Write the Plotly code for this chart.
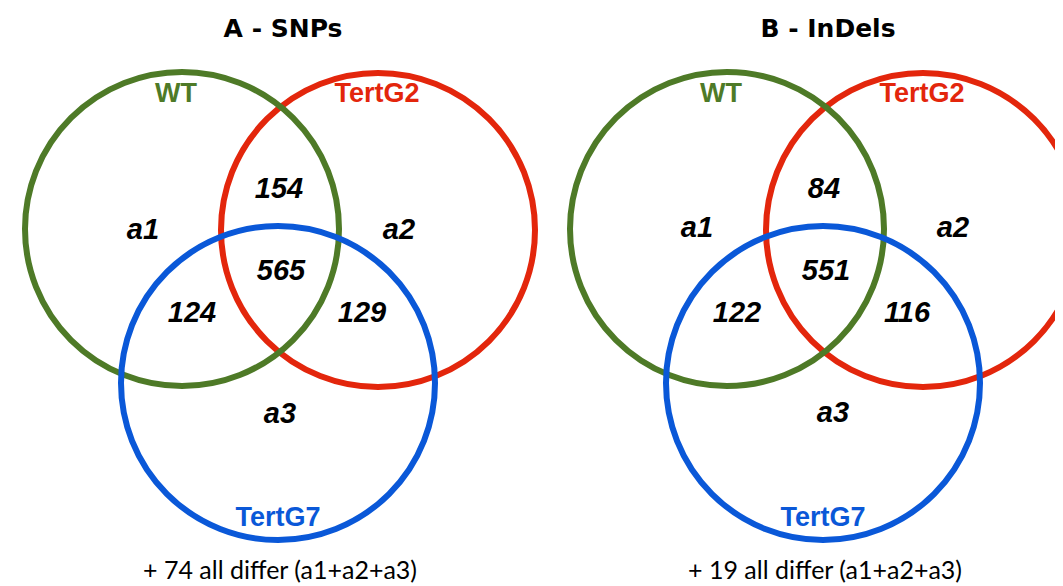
import plotly.graph_objects as go

# ---------------- data ----------------
panel_titles = ["A - SNPs", "B - InDels"]
set_names = ["WT", "TertG2", "TertG7"]
set_colors = ["#4E7A27", "#E3260C", "#0A58D8"]
unique_labels = ["a1", "a2", "a3"]
# overlap regions: WT∩TertG2, all three, WT∩TertG7, TertG2∩TertG7
snp_counts = [154, 565, 124, 129]
indel_counts = [84, 551, 122, 116]
all_differ = [74, 19]

# ---------------- layout geometry (pixels, relative to panel) ----------------
W, H = 1063, 586
panel_dx = [0, 545]
circle_centers = [(174, 221), (370, 222), (270, 375)]   # WT, TertG2, TertG7
radius = 157
title_pos = (275, 23)
set_label_pos = [(168, 87), (369, 87), (270, 511)]
overlap_pos = [(271, 183), (273, 265), (184, 307), (354, 307)]
unique_pos = [[(135, 224), (391, 224), (272, 408)],
              [(144, 222), (400, 222), (280, 407)]]
footer_pos = (272, 565)

fig = go.Figure()
shapes = []
draw_order = [1, 0, 2]
for p, dx in enumerate(panel_dx):
    for i in draw_order:
        cx, cy = circle_centers[i]
        shapes.append(dict(type="circle", xref="x", yref="y",
                           x0=cx + dx - radius, x1=cx + dx + radius,
                           y0=cy - radius, y1=cy + radius,
                           line=dict(color=set_colors[i], width=6),
                           fillcolor="rgba(0,0,0,0)", layer="above"))

all_counts = [snp_counts, indel_counts]
for p, dx in enumerate(panel_dx):
    # title
    fig.add_trace(go.Scatter(x=[title_pos[0] + dx], y=[title_pos[1]], mode="text",
                             text=[panel_titles[p]],
                             textfont=dict(family="DejaVu Sans", size=25, color="black", weight="bold"),
                             hoverinfo="skip"))
    # set labels
    for i, name in enumerate(set_names):
        fig.add_trace(go.Scatter(x=[set_label_pos[i][0] + dx], y=[set_label_pos[i][1]], mode="text",
                                 text=[name],
                                 textfont=dict(family="Liberation Sans", size=27,
                                               color=set_colors[i], weight="bold"),
                                 hoverinfo="skip"))
    # overlap counts
    fig.add_trace(go.Scatter(x=[q[0] + dx for q in overlap_pos], y=[q[1] for q in overlap_pos],
                             mode="text", text=[str(v) for v in all_counts[p]],
                             textfont=dict(family="Liberation Sans", size=29, color="black",
                                           weight="bold", style="italic"),
                             hoverinfo="skip"))
    # unique labels
    up = unique_pos[p]
    fig.add_trace(go.Scatter(x=[q[0] + dx for q in up], y=[q[1] for q in up],
                             mode="text", text=unique_labels,
                             textfont=dict(family="Liberation Sans", size=29, color="black",
                                           weight="bold", style="italic"),
                             hoverinfo="skip"))
    # footer
    fig.add_trace(go.Scatter(x=[footer_pos[0] + dx], y=[footer_pos[1]], mode="text",
                             text=[f"+ {all_differ[p]} all differ (a1+a2+a3)"],
                             textfont=dict(family="Lato", size=25, color="black"),
                             hoverinfo="skip"))

fig.update_layout(
    width=W, height=H, margin=dict(l=0, r=0, t=0, b=0),
    paper_bgcolor="white", plot_bgcolor="white",
    showlegend=False, shapes=shapes,
    xaxis=dict(range=[0, W], visible=False, fixedrange=True),
    yaxis=dict(range=[H, 0], visible=False, fixedrange=True),
)
fig.write_html("out.html")
